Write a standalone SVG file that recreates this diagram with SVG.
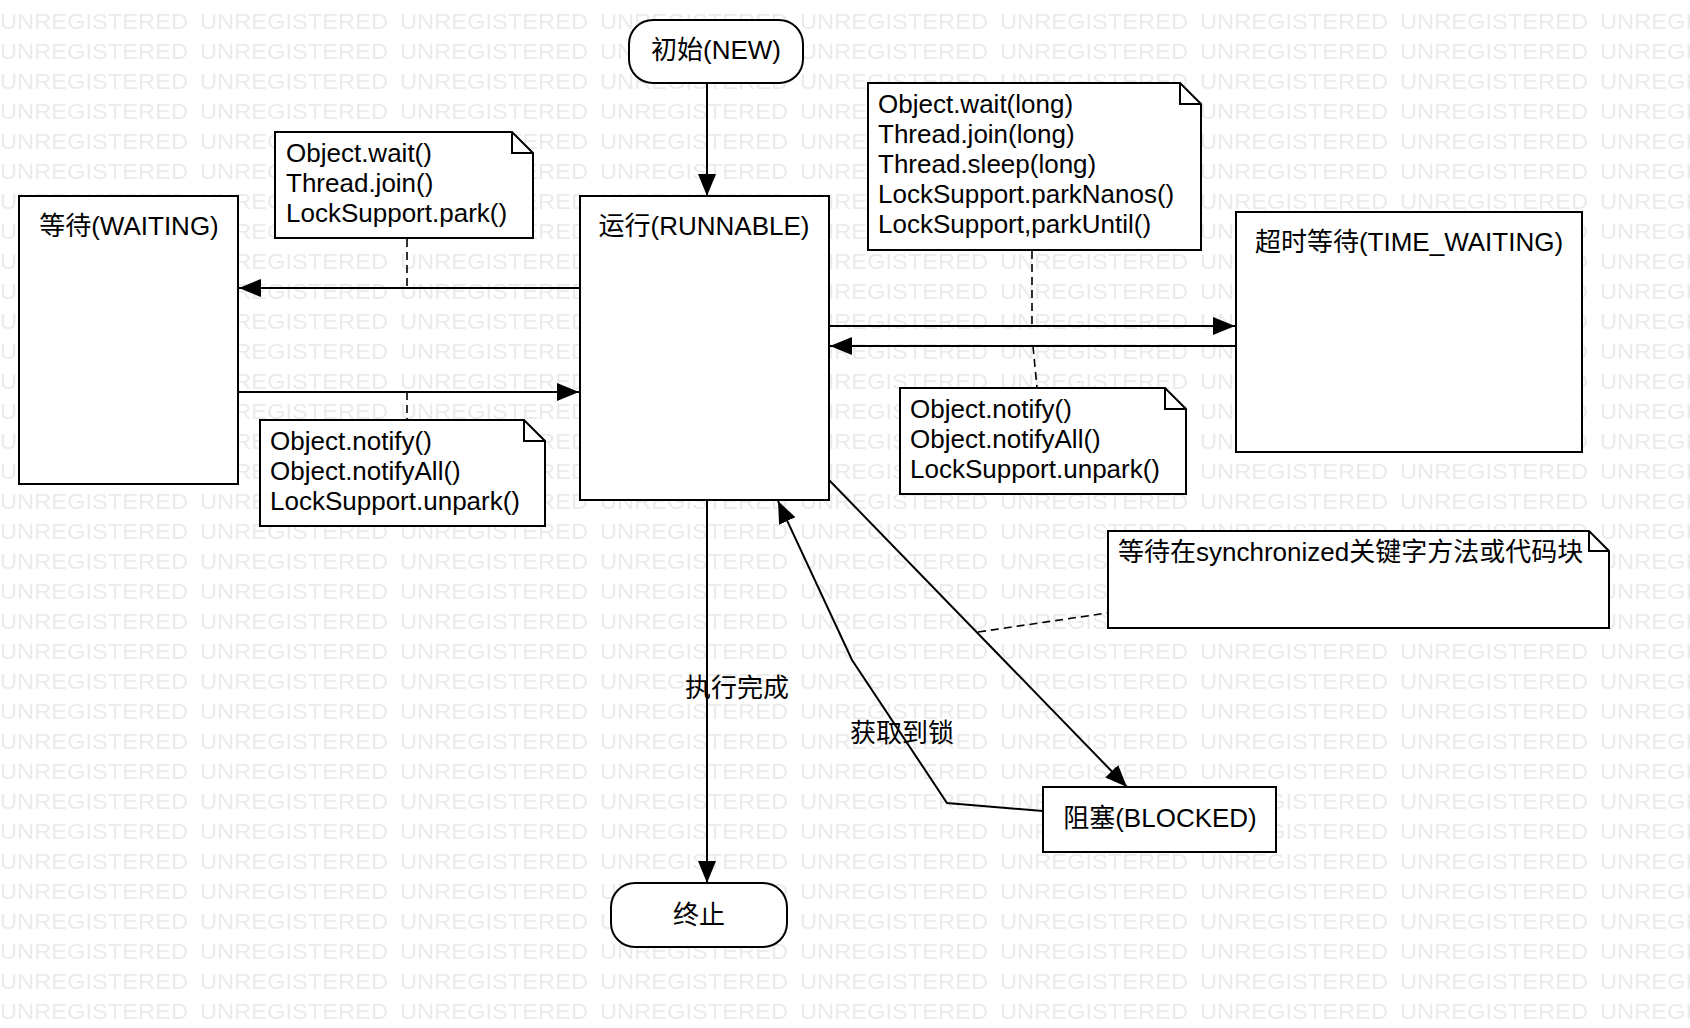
<svg xmlns="http://www.w3.org/2000/svg" width="1690" height="1028" viewBox="0 0 1690 1028">
<style>
.t{font-family:"Liberation Sans",Arial,"Noto Sans CJK SC",sans-serif;font-size:26px;fill:#000}
.c{text-anchor:middle}
.box{fill:#fff;stroke:#000;stroke-width:2}
.edge{fill:none;stroke:#000;stroke-width:2}
.dash{fill:none;stroke:#000;stroke-width:1.6;stroke-dasharray:8 5}
.wm{font-family:"Liberation Sans",Arial,sans-serif;font-size:22px;fill:#ebebeb}
</style>
<defs>
<marker id="arr" markerUnits="userSpaceOnUse" markerWidth="24" markerHeight="20" refX="22" refY="9" orient="auto">
<path d="M0,0 L22,9 L0,18 Z" fill="#000"/>
</marker>
<pattern id="wmp" patternUnits="userSpaceOnUse" x="0" y="0" width="200" height="30">
<text class="wm" x="0" y="29" textLength="188" lengthAdjust="spacingAndGlyphs">UNREGISTERED</text>
</pattern>
</defs>
<rect x="0" y="0" width="1690" height="1028" fill="#fff"/>
<rect x="0" y="0" width="1690" height="1028" fill="url(#wmp)"/>

<g id="connectors">
<line class="edge" x1="707" y1="84" x2="707" y2="196" marker-end="url(#arr)"/>
<line class="edge" x1="580" y1="288" x2="239" y2="288" marker-end="url(#arr)"/>
<line class="edge" x1="238" y1="392" x2="579" y2="392" marker-end="url(#arr)"/>
<line class="edge" x1="829" y1="326" x2="1235" y2="326" marker-end="url(#arr)"/>
<line class="edge" x1="1236" y1="346" x2="830" y2="346" marker-end="url(#arr)"/>
<line class="edge" x1="707" y1="500" x2="707" y2="883" marker-end="url(#arr)"/>
<line class="edge" x1="829" y1="480" x2="1127" y2="787" marker-end="url(#arr)"/>
<polyline class="edge" points="1043,811 947,803 852,660 778,501" marker-end="url(#arr)"/>
<line class="dash" x1="407" y1="239" x2="407" y2="288"/>
<line class="dash" x1="407" y1="392" x2="407" y2="420"/>
<line class="dash" x1="1032" y1="251" x2="1032" y2="326"/>
<line class="dash" x1="1033" y1="346" x2="1037" y2="388"/>
<line class="dash" x1="978" y1="632" x2="1107" y2="613"/>
<text class="t" x="685" y="697">执行完成</text>
<text class="t" x="850" y="742">获取到锁</text>
</g>

<g id="node-new">
<rect class="box" x="629" y="20" width="174" height="63" rx="24" ry="24"/>
<text class="t c" x="716" y="59">初始(NEW)</text>
</g>

<g id="node-runnable">
<rect class="box" x="580" y="196" width="249" height="304"/>
<text class="t c" x="704" y="235">运行(RUNNABLE)</text>
</g>

<g id="node-waiting">
<rect class="box" x="19" y="196" width="219" height="288"/>
<text class="t c" x="129" y="235">等待(WAITING)</text>
</g>

<g id="node-timewaiting">
<rect class="box" x="1236" y="212" width="346" height="240"/>
<text class="t c" x="1409" y="251">超时等待(TIME_WAITING)</text>
</g>

<g id="node-blocked">
<rect class="box" x="1043" y="787" width="233" height="65"/>
<text class="t c" x="1160" y="827">阻塞(BLOCKED)</text>
</g>

<g id="node-terminated">
<rect class="box" x="611" y="883" width="176" height="64" rx="24" ry="24"/>
<text class="t c" x="699" y="924">终止</text>
</g>

<g id="note-wait">
<path class="box" d="M275,132 H512 L533,153 V238 H275 Z"/>
<path class="edge" d="M512,132 V153 H533"/>
<text class="t" x="286" y="162">Object.wait()</text>
<text class="t" x="286" y="192">Thread.join()</text>
<text class="t" x="286" y="222">LockSupport.park()</text>
</g>

<g id="note-notify-left">
<path class="box" d="M260,420 H524 L545,441 V526 H260 Z"/>
<path class="edge" d="M524,420 V441 H545"/>
<text class="t" x="270" y="450">Object.notify()</text>
<text class="t" x="270" y="480">Object.notifyAll()</text>
<text class="t" x="270" y="510">LockSupport.unpark()</text>
</g>

<g id="note-timed">
<path class="box" d="M868,83 H1180 L1201,104 V250 H868 Z"/>
<path class="edge" d="M1180,83 V104 H1201"/>
<text class="t" x="878" y="113">Object.wait(long)</text>
<text class="t" x="878" y="143">Thread.join(long)</text>
<text class="t" x="878" y="173">Thread.sleep(long)</text>
<text class="t" x="878" y="203">LockSupport.parkNanos()</text>
<text class="t" x="878" y="233">LockSupport,parkUntil()</text>
</g>

<g id="note-notify-right">
<path class="box" d="M900,388 H1165 L1186,409 V494 H900 Z"/>
<path class="edge" d="M1165,388 V409 H1186"/>
<text class="t" x="910" y="418">Object.notify()</text>
<text class="t" x="910" y="448">Object.notifyAll()</text>
<text class="t" x="910" y="478">LockSupport.unpark()</text>
</g>

<g id="note-sync">
<path class="box" d="M1108,531 H1589 L1609,551 V628 H1108 Z"/>
<path class="edge" d="M1589,531 V551 H1609"/>
<text class="t" x="1118" y="561">等待在synchronized关键字方法或代码块</text>
</g>
</svg>
